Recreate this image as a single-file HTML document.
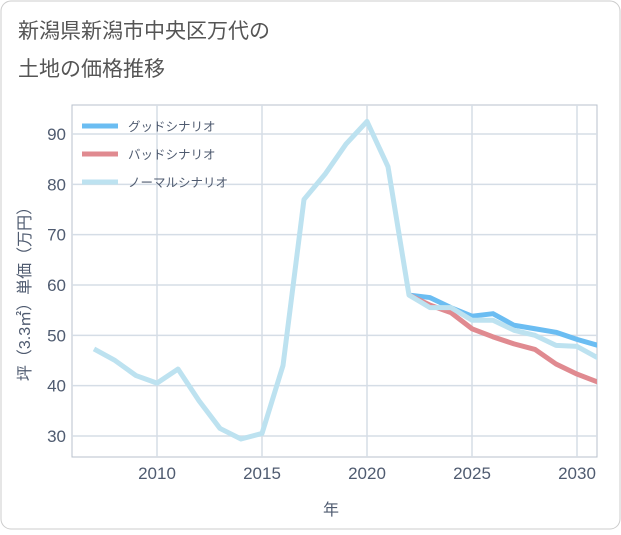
<!DOCTYPE html>
<html><head><meta charset="utf-8">
<style>
body{margin:0;background:#fff;}
#wrap{position:relative;width:621px;height:530px;font-family:"Liberation Sans","Noto Sans CJK JP",sans-serif;}
svg text{font-family:"Liberation Sans","Noto Sans CJK JP",sans-serif;}
</style></head>
<body>
<div id="wrap">
<svg id="chart" width="621" height="530">
<rect x="1" y="1" width="619" height="528" rx="10" fill="#fff" stroke="#ccc"/>
<text x="18" y="38" font-size="21" fill="#555">新潟県新潟市中央区万代の</text>
<text x="18" y="76" font-size="21" fill="#555">土地の価格推移</text>
<g id="grid"></g><g id="series"></g><g id="axes"></g>
<g>
<line x1="82" y1="126" x2="118" y2="126" stroke="#6bbdf2" stroke-width="5"/>
<text x="128" y="131" font-size="12.5" fill="#4f5b70">グッドシナリオ</text>
<line x1="82" y1="154" x2="118" y2="154" stroke="#e08a90" stroke-width="5"/>
<text x="128" y="159" font-size="12.5" fill="#4f5b70">バッドシナリオ</text>
<line x1="82" y1="182" x2="118" y2="182" stroke="#bde2f0" stroke-width="5"/>
<text x="128" y="187" font-size="12.5" fill="#4f5b70">ノーマルシナリオ</text>
</g>
<text x="331" y="515" font-size="16" fill="#4f5b70" text-anchor="middle">年</text>
<text transform="translate(30,290) rotate(-90)" font-size="16" fill="#4f5b70" text-anchor="middle">坪（3.3㎡）単価（万円）</text>
</svg>
</div>
<script>
const normalYears=[2007,2008,2009,2010,2011,2012,2013,2014,2015,2016,2017,2018,2019,2020,2021,2022,2023,2024,2025,2026,2027,2028,2029,2030,2031];
const normalVals=[47.3,45,42,40.5,43.3,37,31.5,29.4,30.5,44,77,82,88,92.5,83.5,58,55.5,55.5,53,53,51,50,48,47.8,45.5];
const scenYears=[2022,2023,2024,2025,2026,2027,2028,2029,2030,2031];
const goodVals=[58,57.5,55.5,53.8,54.3,52,51.3,50.6,49.2,48];
const badVals=[58,56,54.5,51.3,49.7,48.3,47.2,44.3,42.3,40.7];
const xTicks=[2010,2015,2020,2025,2030];
const yTicks=[30,40,50,60,70,80,90];
const X0=72,X1=597,Y0=105,Y1=457;
function xs(v){return 157+(v-2010)*21;}
function ys(v){return 134+(90-v)*5.033;}
const NS="http://www.w3.org/2000/svg";
function mk(t,a,p){const e=document.createElementNS(NS,t);for(const k in a)e.setAttribute(k,a[k]);p.appendChild(e);return e;}
const grid=document.getElementById('grid'),axes=document.getElementById('axes'),ser=document.getElementById('series');
const bg=mk('rect',{x:X0,y:Y0,width:X1-X0,height:Y1-Y0,fill:'#fff',stroke:'#b8c2cc'},grid);


xTicks.forEach(t=>{
 const l=mk('line',{x1:xs(t),x2:xs(t),y1:Y0,y2:Y1,stroke:'#d5dde6','stroke-width':1.5},grid);
 
 
 const tx=mk('text',{x:xs(t),y:Y1+22,'font-size':17,fill:'#4f5b70','text-anchor':'middle'},axes);
 tx.textContent=t;
 
 
});
yTicks.forEach(t=>{
 const l=mk('line',{x1:X0,x2:X1,y1:ys(t),y2:ys(t),stroke:'#d5dde6','stroke-width':1.5},grid);
 
 
 const tx=mk('text',{x:66,y:ys(t)+6,'font-size':17,fill:'#4f5b70','text-anchor':'end'},axes);
 tx.textContent=t;
 
 
});
function line(years,vals,color,name){
 const p=mk('polyline',{points:years.map((y,i)=>xs(y)+','+ys(vals[i])).join(' '),fill:'none',stroke:color,'stroke-width':5,'stroke-linejoin':'round'},ser);
 
 
}
const cp=mk('clipPath',{id:'clip'},ser);mk('rect',{x:X0,y:Y0,width:X1-X0,height:Y1-Y0},cp);
ser.setAttribute('clip-path','url(#clip)');
line(scenYears,goodVals,'#6bbdf2','good-scenario-line');
line(scenYears,badVals,'#e08a90','bad-scenario-line');
line(normalYears,normalVals,'#bde2f0','normal-scenario-line');
</script>
</body></html>
